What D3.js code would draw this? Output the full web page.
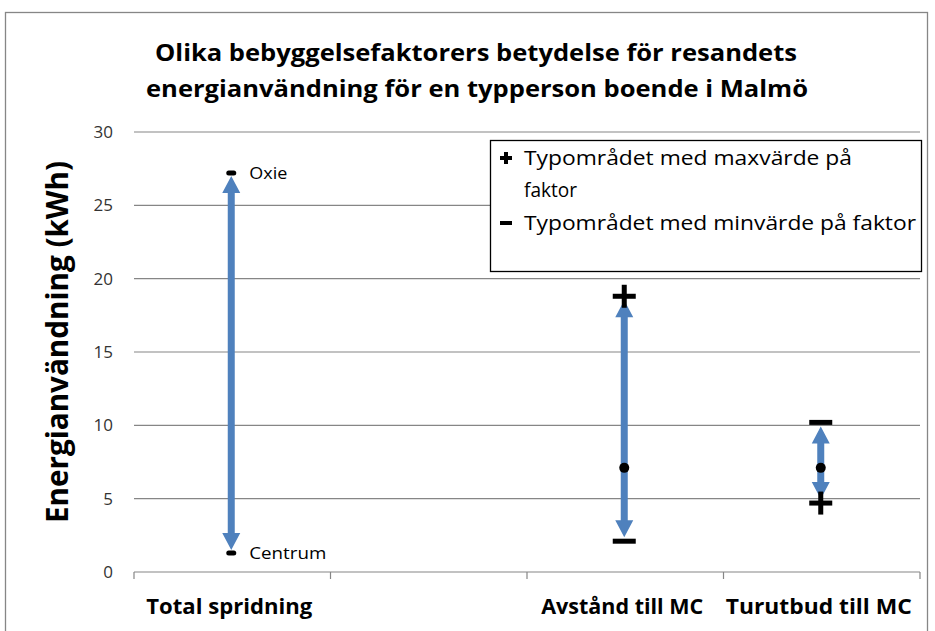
<!DOCTYPE html>
<html>
<head>
<meta charset="utf-8">
<script src="https://cdn.jsdelivr.net/npm/d3@7"></script>
<style>
  body { margin: 0; background: #fff; }
  svg { display: block; }
</style>
</head>
<body>
<div id="chart"></div>
<script>
// data
var categories = ["Total spridning", "", "Avstånd till MC", "Turutbud till MC"]
var yTicks = [0, 5, 10, 15, 20, 25, 30]
// total spread: highest and lowest area
var spreadHigh = [27.2, null, null, null]
var spreadLow = [1.3, null, null, null]
var spreadLabels = ["Oxie", "Centrum"]
// factor ranges
var maxFactor = [null, null, 18.8, 4.7]
var minFactor = [null, null, 2.1, 10.2]
var baseValue = [null, null, 7.1, 7.1]
var legendItems = [["Typområdet med maxvärde på", "faktor"], ["Typområdet med minvärde på faktor"]]

var W = 935, H = 631
var margin = {top: 132, right: 15, bottom: 59, left: 134}
var blue = "#4f81bd", grid = "#868686"
var font = "'Open Sans', 'Noto Sans', sans-serif"

var svg = d3.select("#chart").append("svg")
    .attr("width", W).attr("height", H)
    .style("font-family", font)

// chart area border
svg.append("rect")
    .attr("x", 5.5).attr("y", 12.5)
    .attr("width", 922).attr("height", 640)
    .attr("fill", "#fff").attr("stroke", grid).attr("stroke-width", 1.3)

var x = d3.scaleBand()
    .domain(d3.range(categories.length))
    .range([margin.left, W - margin.right])
var y = d3.scaleLinear()
    .domain([0, 30])
    .range([H - margin.bottom, margin.top])

// title
var title = svg.append("text")
    .attr("text-anchor", "middle")
    .attr("font-weight", "bold")
    .attr("font-size", 24)
    .attr("fill", "#000")
title.append("tspan").attr("x", 476).attr("y", 61)
    .attr("textLength", 642).attr("lengthAdjust", "spacingAndGlyphs")
    .text("Olika bebyggelsefaktorers betydelse för resandets")
title.append("tspan").attr("x", 477).attr("y", 97)
    .attr("textLength", 662).attr("lengthAdjust", "spacingAndGlyphs")
    .text("energianvändning för en typperson boende i Malmö")

// gridlines
svg.append("g").selectAll("line")
    .data(yTicks.filter(function(d) { return d > 0 }))
    .join("line")
    .attr("x1", margin.left).attr("x2", W - margin.right)
    .attr("y1", function(d) { return y(d) }).attr("y2", function(d) { return y(d) })
    .attr("stroke", grid).attr("stroke-width", 1.2)

// y axis
var yAxis = svg.append("g")
    .attr("transform", "translate(" + margin.left + ",0)")
    .call(d3.axisLeft(y).tickValues(yTicks).tickSize(0).tickPadding(21))
yAxis.select(".domain").remove()
yAxis.selectAll("text")
    .attr("font-size", 17).attr("fill", "#333")
    .style("font-family", font)

svg.append("text")
    .attr("transform", "translate(68," + 342 + ") rotate(-90)")
    .attr("text-anchor", "middle")
    .attr("font-weight", "bold").attr("font-size", 30)
    .attr("textLength", 362).attr("lengthAdjust", "spacingAndGlyphs")
    .text("Energianvändning (kWh)")

// x axis
var xAxisG = svg.append("g")
svg.append("line")
    .attr("x1", margin.left).attr("x2", W - margin.right)
    .attr("y1", y(0)).attr("y2", y(0))
    .attr("stroke", grid).attr("stroke-width", 1.2)
xAxisG.selectAll("line")
    .data(d3.range(categories.length + 1))
    .join("line")
    .attr("x1", function(i) { return i < categories.length ? x(i) : x.range()[1] })
    .attr("x2", function(i) { return i < categories.length ? x(i) : x.range()[1] })
    .attr("y1", y(0)).attr("y2", y(0) + 7)
    .attr("stroke", grid).attr("stroke-width", 1.2)
var xLabelWidths = [166, 0, 162, 186]
xAxisG.selectAll("text")
    .data(categories)
    .join("text")
    .attr("x", function(d, i) { return x(i) + x.bandwidth() / 2 - 3 })
    .attr("y", 614)
    .attr("text-anchor", "middle")
    .attr("font-weight", "bold").attr("font-size", 21)
    .attr("textLength", function(d, i) { return xLabelWidths[i] || null })
    .attr("lengthAdjust", "spacingAndGlyphs")
    .text(function(d) { return d })

// double headed arrow between two values
function arrowPath(cx, v1, v2, inset) {
    var top = y(Math.max(v1, v2)) + inset, bot = y(Math.min(v1, v2)) - inset
    var sw = 3.5, hw = 9, hl = 17
    return "M" + cx + "," + top +
        "L" + (cx + hw) + "," + (top + hl) + "L" + (cx + sw) + "," + (top + hl) +
        "L" + (cx + sw) + "," + (bot - hl) + "L" + (cx + hw) + "," + (bot - hl) +
        "L" + cx + "," + bot +
        "L" + (cx - hw) + "," + (bot - hl) + "L" + (cx - sw) + "," + (bot - hl) +
        "L" + (cx - sw) + "," + (top + hl) + "L" + (cx - hw) + "," + (top + hl) + "Z"
}
function cx(i) { return x(i) + x.bandwidth() / 2 - 1 }

var spreadLabelWidths = [38, 77]
var marks = svg.append("g")
categories.forEach(function(c, i) {
    if (spreadHigh[i] != null) {
        marks.append("path").attr("d", arrowPath(cx(i), spreadHigh[i], spreadLow[i], 3)).attr("fill", blue)
        ;[spreadHigh[i], spreadLow[i]].forEach(function(v, k) {
            marks.append("rect")
                .attr("x", cx(i) - 5).attr("y", y(v) - 2.5)
                .attr("width", 10).attr("height", 5).attr("rx", 2.5)
                .attr("fill", "#000")
            marks.append("text")
                .attr("x", cx(i) + 18).attr("y", y(v) + 6)
                .attr("font-size", 16).attr("fill", "#000")
                .attr("textLength", spreadLabelWidths[k]).attr("lengthAdjust", "spacingAndGlyphs")
                .text(spreadLabels[k])
        })
    }
    if (maxFactor[i] != null) {
        marks.append("path").attr("d", arrowPath(cx(i), maxFactor[i], minFactor[i], 4)).attr("fill", blue)
        // plus marker
        var px = cx(i), py = y(maxFactor[i])
        marks.append("rect").attr("x", px - 11.5).attr("y", py - 2.5).attr("width", 23).attr("height", 5).attr("fill", "#000")
        marks.append("rect").attr("x", px - 2.5).attr("y", py - 11.5).attr("width", 5).attr("height", 23).attr("fill", "#000")
        // minus marker
        marks.append("rect").attr("x", px - 11.5).attr("y", y(minFactor[i]) - 2.5).attr("width", 23).attr("height", 5).attr("fill", "#000")
        // base dot
        marks.append("circle").attr("cx", px).attr("cy", y(baseValue[i])).attr("r", 5).attr("fill", "#000")
    }
})

// legend
var lg = svg.append("g")
lg.append("rect")
    .attr("x", 490.5).attr("y", 140.5).attr("width", 431).attr("height", 131)
    .attr("fill", "#fff").attr("stroke", "#000").attr("stroke-width", 1.3)
var legendY = [158, 223]
var legendWidths = [[328, 53], [392]]
legendItems.forEach(function(lines, k) {
    var ly = legendY[k]
    lg.append("rect").attr("x", 500).attr("y", ly - 2).attr("width", 12).attr("height", 4).attr("fill", "#000")
    if (k === 0) {
        lg.append("rect").attr("x", 504).attr("y", ly - 6).attr("width", 4).attr("height", 12).attr("fill", "#000")
    }
    lines.forEach(function(t, j) {
        lg.append("text")
            .attr("x", 524).attr("y", ly + 7 + j * 32)
            .attr("font-size", 20).attr("fill", "#000")
            .attr("textLength", legendWidths[k][j])
            .attr("lengthAdjust", "spacingAndGlyphs")
            .text(t)
    })
})
</script>
</body>
</html>
